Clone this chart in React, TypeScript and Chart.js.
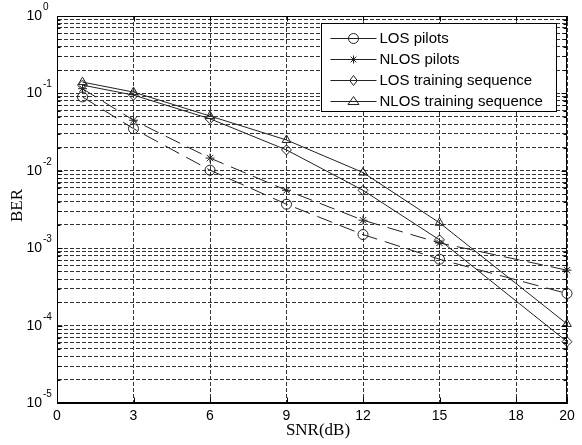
import React, { useEffect, useRef } from "react";
import { Chart, registerables } from "chart.js";

Chart.register(...registerables);

const snr = [1, 3, 6, 9, 12, 15, 20];
const losPilots = [0.09, 0.035, 0.0102, 0.0037, 0.0015, 0.00072, 0.00026];
const nlosPilots = [0.115, 0.045, 0.0146, 0.0056, 0.0023, 0.00117, 0.00052];
const losTraining = [0.128, 0.095, 0.047, 0.0186, 0.0056, 0.00128, 0.000062];
const nlosTraining = [0.14, 0.104, 0.051, 0.025, 0.0095, 0.00213, 0.000105];
const seriesNames = ["LOS pilots", "NLOS pilots", "LOS training sequence", "NLOS training sequence"];
const seriesMarkers = ["circle", "star", "rectRot", "triangle"];
const seriesDashed = [true, true, false, false];
const xTicks = [0, 3, 6, 9, 12, 15, 18, 20];
const yDecades = [-5, -4, -3, -2, -1, 0];
const yMinorMultipliers = [1, 2, 3, 4, 5, 6, 7, 8, 9];
const xTitle = "SNR(dB)";
const yTitle = "BER";

const INK = "#000";
const LINE = "#222";

function yTickValues(): number[] {
  const out: number[] = [];
  for (const k of yDecades) {
    if (k === 0) out.push(1);
    else for (const m of yMinorMultipliers) out.push(m * Math.pow(10, k));
  }
  return out;
}

function drawMarker(ctx: CanvasRenderingContext2D, style: string, x: number, y: number, r: number) {
  ctx.beginPath();
  if (style === "circle") {
    ctx.arc(x, y, r, 0, Math.PI * 2);
  } else if (style === "rectRot") {
    ctx.moveTo(x, y - r);
    ctx.lineTo(x + r * 0.75, y);
    ctx.lineTo(x, y + r);
    ctx.lineTo(x - r * 0.75, y);
    ctx.closePath();
  } else if (style === "triangle") {
    ctx.moveTo(x, y - r);
    ctx.lineTo(x + r * 1.1, y + r * 0.6);
    ctx.lineTo(x - r * 1.1, y + r * 0.6);
    ctx.closePath();
  } else if (style === "star") {
    for (let i = 0; i < 4; i++) {
      const a = (i * Math.PI) / 4;
      ctx.moveTo(x - Math.cos(a) * r, y - Math.sin(a) * r);
      ctx.lineTo(x + Math.cos(a) * r, y + Math.sin(a) * r);
    }
  }
  ctx.stroke();
}

const decorPlugin = {
  id: "matlabDecor",
  afterDraw(chart: any) {
    const { ctx, chartArea, scales } = chart;
    const xs = scales.x;
    const ys = scales.y;
    const L = Math.round(chartArea.left) + 0.5;
    const R = Math.round(chartArea.right) - 0.5;
    const T = Math.round(chartArea.top) + 0.5;
    const B = Math.round(chartArea.bottom) - 0.5;
    ctx.save();
    ctx.strokeStyle = INK;
    ctx.lineWidth = 1;
    ctx.setLineDash([]);
    // inward tick marks
    ctx.beginPath();
    for (const v of xTicks) {
      const px = Math.round(xs.getPixelForValue(v)) + 0.5;
      ctx.moveTo(px, B);
      ctx.lineTo(px, B - 5);
      ctx.moveTo(px, T);
      ctx.lineTo(px, T + 5);
    }
    for (const v of yTickValues()) {
      const py = Math.round(ys.getPixelForValue(v)) + 0.5;
      const isMajor = Math.abs(Math.log10(v) - Math.round(Math.log10(v))) < 1e-9;
      const len = isMajor ? 5 : 3;
      ctx.moveTo(L, py);
      ctx.lineTo(L + len, py);
      ctx.moveTo(R, py);
      ctx.lineTo(R - len, py);
    }
    ctx.stroke();
    // axes box
    ctx.strokeRect(L, T, R - L, B - T);

    // y tick labels 10^k
    ctx.fillStyle = INK;
    for (const k of yDecades) {
      const py = ys.getPixelForValue(Math.pow(10, k));
      ctx.font = "14px 'Liberation Sans', Arial, sans-serif";
      ctx.textAlign = "right";
      ctx.textBaseline = "alphabetic";
      ctx.fillText("10", 42, py + 4);
      ctx.font = "10px 'Liberation Sans', Arial, sans-serif";
      ctx.textAlign = "left";
      ctx.fillText(String(k), 43, py - 6);
    }

    // axis titles
    ctx.font = "17px 'Liberation Serif', 'Times New Roman', serif";
    ctx.textAlign = "center";
    ctx.textBaseline = "middle";
    ctx.fillText(xTitle, 318, 431);
    ctx.save();
    ctx.translate(17.5, (chartArea.top + chartArea.bottom) / 2 - 4);
    ctx.rotate(-Math.PI / 2);
    ctx.fillText(yTitle, 0, 0);
    ctx.restore();

    // legend
    const bw = 235;
    const bh = 88;
    const bx = Math.round(chartArea.right) - 11 - bw + 0.5;
    const by = Math.round(chartArea.top) + 7 + 0.5;
    ctx.fillStyle = "#fff";
    ctx.fillRect(bx, by, bw, bh);
    ctx.strokeStyle = INK;
    ctx.strokeRect(bx, by, bw, bh);
    ctx.font = "15px 'Liberation Sans', Arial, sans-serif";
    ctx.textAlign = "left";
    ctx.textBaseline = "middle";
    for (let i = 0; i < seriesNames.length; i++) {
      const cy = Math.round(by + 14.5 + i * 21) + 0.5;
      ctx.strokeStyle = LINE;
      ctx.beginPath();
      ctx.moveTo(bx + 9, cy);
      ctx.lineTo(bx + 55, cy);
      ctx.stroke();
      ctx.fillStyle = "#fff";
      const m = seriesMarkers[i];
      drawMarker(ctx, m, bx + 32, cy, m === "star" ? 4 : 5);
      ctx.fillStyle = INK;
      ctx.fillText(seriesNames[i], bx + 58, cy + 0.5);
    }
    ctx.restore();
  },
};

export default function App() {
  const ref = useRef<HTMLCanvasElement>(null);
  useEffect(() => {
    const series = [losPilots, nlosPilots, losTraining, nlosTraining];
    const datasets = series.map((vals, i) => ({
      label: seriesNames[i],
      data: snr.map((x, j) => ({ x, y: vals[j] })),
      borderColor: LINE,
      borderWidth: 1,
      borderDash: seriesDashed[i] ? [16, 8] : [],
      pointStyle: seriesMarkers[i],
      pointRadius: seriesMarkers[i] === "star" ? 4.5 : 5,
      pointBorderColor: LINE,
      pointBackgroundColor: "rgba(0,0,0,0)",
      pointBorderWidth: 1,
      tension: 0,
      fill: false,
      clip: false as any,
    }));
    const gridStyle = {
      display: true,
      color: "#333",
      lineWidth: 1,
      drawTicks: false,
      tickLength: 0,
    };
    const chart = new Chart(ref.current!, {
      type: "line",
      data: { datasets },
      plugins: [decorPlugin],
      options: {
        animation: false,
        responsive: false,
        devicePixelRatio: 1,
        layout: { padding: { top: 16, right: 15, left: 0, bottom: 0 } },
        plugins: { legend: { display: false }, tooltip: { enabled: false } },
        scales: {
          x: {
            type: "linear",
            min: 0,
            max: 20,
            afterBuildTicks: (s: any) => {
              s.ticks = xTicks.map((v) => ({ value: v }));
            },
            afterFit: (s: any) => {
              s.height = 42;
            },
            grid: gridStyle,
            border: { display: true, color: INK, width: 1, dash: [4, 2] },
            ticks: {
              color: INK,
              padding: 5,
              maxRotation: 0,
              autoSkip: false,
              font: { family: "'Liberation Sans', Arial, sans-serif", size: 14 },
              callback: (v: any) => String(v),
            },
          },
          y: {
            type: "logarithmic",
            min: 1e-5,
            max: 1,
            afterBuildTicks: (s: any) => {
              s.ticks = yTickValues().map((v) => ({ value: v }));
            },
            afterFit: (s: any) => {
              s.width = 57;
            },
            grid: gridStyle,
            border: { display: true, color: INK, width: 1, dash: [4, 2] },
            ticks: { display: false },
          },
        },
      } as any,
    });
    return () => chart.destroy();
  }, []);
  return (
    <div style={{ position: "fixed", left: 0, top: 0, width: 582, height: 445, background: "#fff" }}>
      <canvas ref={ref} width={582} height={445} style={{ display: "block" }} />
    </div>
  );
}
